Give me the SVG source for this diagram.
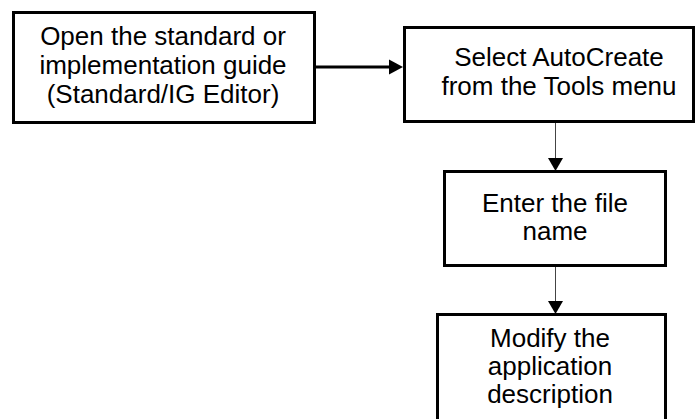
<svg xmlns="http://www.w3.org/2000/svg" width="695" height="419" viewBox="0 0 695 419">
<style>
.box{fill:#fff;stroke:#000;stroke-width:3}
.t{font-family:"Liberation Sans",Arial,sans-serif;font-size:26px;fill:#000;text-anchor:middle}
.thick{stroke:#000;stroke-width:3;fill:none}
.thin{stroke:#444;stroke-width:1;fill:none}
.head{fill:#000}
</style>
<rect width="695" height="419" fill="#fff"/>
<g id="connectors">
<line class="thick" x1="315" y1="67" x2="392" y2="67"/>
<polygon class="head" points="403,67 389,59.5 389,74.5"/>
<line class="thin" x1="555.5" y1="123" x2="555.5" y2="160"/>
<polygon class="head" points="555.5,171 548,158 563,158"/>
<line class="thin" x1="555.5" y1="267" x2="555.5" y2="303"/>
<polygon class="head" points="555.5,314 548,301 563,301"/>
</g>
<g id="n1">
<rect class="box" x="13.5" y="12.5" width="301" height="110"/>
<text class="t" x="163" y="45">Open the standard or</text>
<text class="t" x="163" y="74">implementation guide</text>
<text class="t" x="163" y="103">(Standard/IG Editor)</text>
</g>
<g id="n2">
<rect class="box" x="404.5" y="27.5" width="289" height="94"/>
<text class="t" x="559" y="66">Select AutoCreate</text>
<text class="t" x="559" y="95">from the Tools menu</text>
</g>
<g id="n3">
<rect class="box" x="444.5" y="171.5" width="221" height="94"/>
<text class="t" x="555" y="212">Enter the file</text>
<text class="t" x="555" y="240">name</text>
</g>
<g id="n4">
<rect class="box" x="437.5" y="314.5" width="228" height="130"/>
<text class="t" x="550" y="347">Modify the</text>
<text class="t" x="550" y="375">application</text>
<text class="t" x="550" y="403">description</text>
</g>
</svg>
